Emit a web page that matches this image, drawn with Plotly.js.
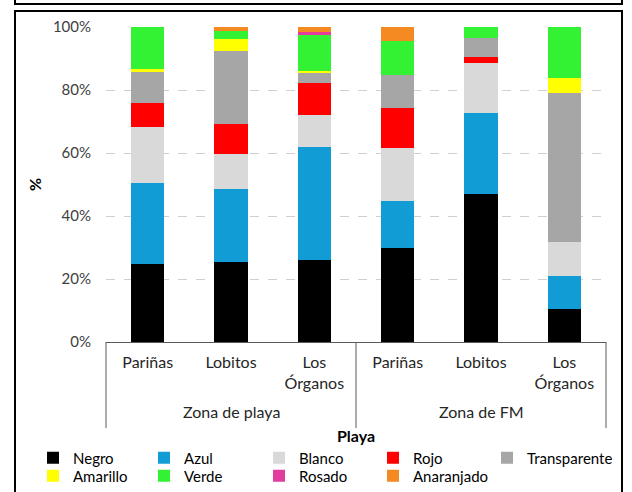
<!DOCTYPE html>
<html>
<head>
<meta charset="utf-8">
<script src="https://cdn.plot.ly/plotly-3.0.1.min.js"></script>
<style>html,body{margin:0;padding:0;background:#fff;}#chart{width:632px;height:492px;}</style>
</head>
<body>
<div id="chart"></div>
<script>
// Categories
const zones = ['Zona de playa', 'Zona de playa', 'Zona de playa', 'Zona de FM', 'Zona de FM', 'Zona de FM'];
const playas = ['Pariñas', 'Lobitos', 'Los Órganos', 'Pariñas', 'Lobitos', 'Los Órganos'];
const tickLabels = ['Pariñas', 'Lobitos', 'Los<br>Órganos', 'Pariñas', 'Lobitos', 'Los<br>Órganos'];
const zoneLabels = ['Zona de playa', 'Zona de FM'];
const yTickVals = [0, 20, 40, 60, 80, 100];
const yTickLabels = ['0%', '20%', '40%', '60%', '80%', '100%'];

// Series values (%)
const negro        = [24.7, 25.3, 26.0, 29.9, 46.9, 10.5];
const azul         = [25.7, 23.3, 36.0, 14.9, 25.7, 10.5];
const blanco       = [17.9, 11.0, 10.1, 16.9, 15.9, 10.6];
const rojo         = [7.6, 9.5, 10.0, 12.7, 1.9, 0];
const transparente = [9.9, 23.4, 3.2, 10.5, 6.2, 47.3];
const amarillo     = [0.8, 3.7, 0.7, 0, 0, 5.0];
const verde        = [13.4, 2.6, 11.5, 10.8, 3.4, 16.1];
const rosado       = [0, 0, 1.0, 0, 0, 0];
const anaranjado   = [0, 1.2, 1.5, 4.3, 0, 0];

const seriesNames = ['Negro', 'Azul', 'Blanco', 'Rojo', 'Transparente', 'Amarillo', 'Verde', 'Rosado', 'Anaranjado'];
const seriesValues = [negro, azul, blanco, rojo, transparente, amarillo, verde, rosado, anaranjado];
const seriesColors = ['#000000', '#119CD6', '#D9D9D9', '#FF0000', '#A6A6A6', '#FFFF00', '#33F233', '#E23D9E', '#F58A22'];

const xKeys = playas.map((p, i) => p + ' · ' + zones[i]);
const legendIds = seriesNames.map((_, k) => k === 0 ? 'legend' : 'legend' + (k + 1));

const traces = seriesNames.map((name, k) => ({
  type: 'bar',
  name: name,
  x: xKeys,
  y: seriesValues[k],
  legend: legendIds[k],
  marker: {color: seriesColors[k], line: {width: 0}},
  hoverinfo: 'skip'
}));

const FONT = 'Lato, "Open Sans", sans-serif';

// pixel -> paper helpers (plot area: x 106..606, y 27..342)
const L = 106, R = 606, T = 27, B = 342;
const px = v => (v - L) / (R - L);
const py = v => (B - v) / (B - T);

const frameLine = {color: '#000000', width: 2};
const sepLine = {color: '#595959', width: 1};

const layout = {
  width: 632, height: 492,
  margin: {l: L, r: 632 - R, t: T, b: 492 - B, autoexpand: false},
  paper_bgcolor: '#ffffff', plot_bgcolor: '#ffffff',
  barmode: 'stack',
  bargap: 0.6,
  showlegend: true,
  font: {family: FONT, size: 16, color: '#000000'},
  xaxis: {
    type: 'category',
    tickvals: xKeys,
    ticktext: tickLabels,
    tickfont: {family: FONT, size: 16, color: '#262626'},
    ticklabelstandoff: 6,
    showline: true, linecolor: '#595959', linewidth: 1,
    ticks: '', showgrid: false, zeroline: false,
    fixedrange: true,
    title: {text: '<b>Playa</b>', font: {family: FONT, size: 16, color: '#000000'}, standoff: 39}
  },
  yaxis: {
    range: [0, 100],
    tickvals: yTickVals,
    ticktext: yTickLabels,
    tickfont: {family: FONT, size: 15, color: '#404040'},
    ticklabelstandoff: 14,
    showgrid: true, gridcolor: '#D0D0D0', griddash: 'dash', gridwidth: 1,
    zeroline: false, showline: false, ticks: '',
    fixedrange: true,
    title: {text: '<b>%</b>', font: {family: FONT, size: 16, color: '#000000'}, standoff: 7}
  },
  shapes: [
    // outer frame
    {type: 'rect', xref: 'paper', yref: 'paper', x0: px(15), x1: px(622), y0: py(500), y1: py(11), line: frameLine, layer: 'above'},
    // bottom of previous frame at top
    {type: 'rect', xref: 'paper', yref: 'paper', x0: px(15), x1: px(622), y0: py(4), y1: py(-10), line: frameLine, layer: 'above'},
    // category separators
    {type: 'line', xref: 'paper', yref: 'paper', x0: 0, x1: 0, y0: 0, y1: py(428), line: sepLine},
    {type: 'line', xref: 'paper', yref: 'paper', x0: 0.5, x1: 0.5, y0: 0, y1: py(428), line: sepLine},
    {type: 'line', xref: 'paper', yref: 'paper', x0: 1, x1: 1, y0: 0, y1: py(428), line: sepLine}
  ],
  annotations: [
    {xref: 'paper', yref: 'paper', x: 0.25, y: py(411), text: zoneLabels[0], showarrow: false, font: {family: FONT, size: 16, color: '#262626'}, xanchor: 'center', yanchor: 'middle'},
    {xref: 'paper', yref: 'paper', x: 0.75, y: py(411), text: zoneLabels[1], showarrow: false, font: {family: FONT, size: 16, color: '#262626'}, xanchor: 'center', yanchor: 'middle'}
  ]
};

// legend grid: 5 columns x 2 rows, one legend box per entry
const colLeft = [33, 144, 259, 373, 487];
const rowMid = [458, 476];
legendIds.forEach((id, k) => {
  const col = k % 5, row = Math.floor(k / 5);
  layout[id] = {
    x: px(colLeft[col]), xanchor: 'left',
    y: py(rowMid[row]), yanchor: 'middle',
    orientation: 'v',
    font: {family: FONT, size: 15, color: '#000000'},
    bgcolor: 'rgba(0,0,0,0)', borderwidth: 0
  };
});

Plotly.newPlot('chart', traces, layout, {displayModeBar: false, staticPlot: true});
</script>
</body>
</html>
